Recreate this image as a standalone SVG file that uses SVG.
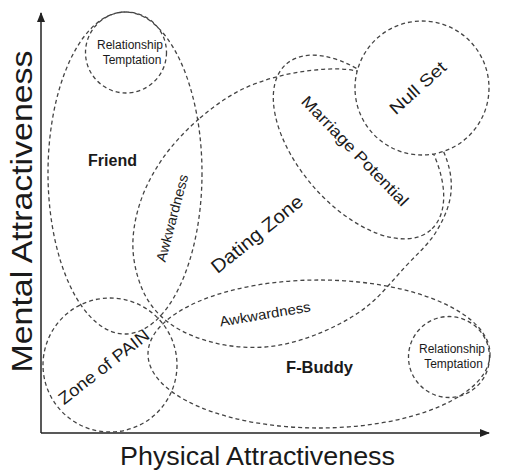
<svg xmlns="http://www.w3.org/2000/svg" width="516" height="475" viewBox="0 0 516 475">
<style>
.zone{fill:none;stroke:#444;stroke-width:1.3;stroke-dasharray:4 3}
.lbl{font-family:"Liberation Sans",Arial,sans-serif;fill:#1a1a1a}
.c{text-anchor:middle;dominant-baseline:central}
.b{font-weight:bold;text-anchor:middle}
.ax{stroke:#222;stroke-width:1.5;fill:none}
</style>
<defs>
<marker id="arr" viewBox="0 0 10 8" refX="9" refY="4" markerWidth="10" markerHeight="8" markerUnits="userSpaceOnUse" orient="auto">
<path d="M0,0 L10,4 L0,8 Z" fill="#222"/>
</marker>
</defs>
<rect width="516" height="475" fill="#fff"/>

<g id="connectors">
<line class="ax" x1="41" y1="433" x2="41" y2="13" marker-end="url(#arr)"/>
<line class="ax" x1="41" y1="433" x2="489" y2="433" marker-end="url(#arr)"/>
</g>

<g id="friend">
<ellipse class="zone" cx="125" cy="173" rx="77" ry="161"/>
<text class="lbl b" x="112.5" y="166" font-size="16">Friend</text>
</g>

<g id="relationship-temptation-top">
<circle class="zone" cx="126" cy="52.5" r="40.5"/>
<text class="lbl" x="130" y="49" font-size="12" text-anchor="middle">Relationship</text>
<text class="lbl" x="132" y="64" font-size="12" text-anchor="middle">Temptation</text>
</g>

<g id="dating-zone">
<path class="zone" d="M200,118 C213.7,106.3 228.3,95.7 245,88 C261.7,80.3 281.3,74.8 300,72 C318.7,69.2 338.7,67.2 357,71 C375.3,74.8 395.7,81.8 410,95 C424.3,108.2 436.2,133.8 443,150 C449.8,166.2 452.2,178.3 451,192 C449.8,205.7 443.7,219.5 436,232 C428.3,244.5 416.8,254.3 405,267 C393.2,279.7 380,296.7 365,308 C350,319.3 331.7,328.5 315,335 C298.3,341.5 281.7,345.7 265,347 C248.3,348.3 230.5,346.7 215,343 C199.5,339.3 183.7,333 172,325 C160.3,317 151.5,307.5 145,295 C138.5,282.5 133.8,265.3 133,250 C132.2,234.7 135,218.3 140,203 C145,187.7 153,172.2 163,158 C173,143.8 186.3,129.7 200,118 Z"/>
</g>

<g id="marriage-potential">
<ellipse class="zone" cx="358.5" cy="147" rx="110" ry="60" transform="rotate(49 358.5 147)"/>
</g>

<g id="null-set">
<circle class="zone" cx="422" cy="88" r="67" fill="#fff" style="fill:#fff"/>
<text class="lbl c" font-size="17" textLength="70" lengthAdjust="spacingAndGlyphs" transform="translate(418,88) rotate(-42)">Null Set</text>
</g>

<g id="zone-of-pain">
<circle class="zone" cx="110" cy="365" r="67"/>
</g>

<g id="f-buddy">
<ellipse class="zone" cx="319" cy="354" rx="171" ry="74"/>
<text class="lbl b" x="319.5" y="373" font-size="16.5">F-Buddy</text>
</g>

<g id="relationship-temptation-bottom">
<circle class="zone" cx="449" cy="357" r="40.5"/>
<text class="lbl" x="452" y="353" font-size="12" text-anchor="middle">Relationship</text>
<text class="lbl" x="453.5" y="368" font-size="12" text-anchor="middle">Temptation</text>
</g>

<g id="region-labels">
<text class="lbl c" font-size="16" textLength="146" lengthAdjust="spacingAndGlyphs" transform="translate(355,151) rotate(46)">Marriage Potential</text>
<text class="lbl c" font-size="19" textLength="112" lengthAdjust="spacingAndGlyphs" transform="translate(257,234) rotate(-39)">Dating Zone</text>
<text class="lbl c" font-size="14" textLength="90" lengthAdjust="spacingAndGlyphs" transform="translate(172,218) rotate(-75)">Awkwardness</text>
<text class="lbl c" font-size="14" textLength="92" lengthAdjust="spacingAndGlyphs" transform="translate(265,314) rotate(-9.5)">Awkwardness</text>
<text class="lbl c" font-size="17" textLength="110" lengthAdjust="spacingAndGlyphs" transform="translate(104,367) rotate(-38)">Zone of PAIN</text>
</g>

<g id="axis-labels">
<text class="lbl" x="120" y="465" font-size="25" textLength="275" lengthAdjust="spacingAndGlyphs">Physical Attractiveness</text>
<text class="lbl" font-size="30" text-anchor="middle" textLength="322" lengthAdjust="spacingAndGlyphs" transform="translate(32,211.5) rotate(-90)">Mental Attractiveness</text>
</g>
</svg>
